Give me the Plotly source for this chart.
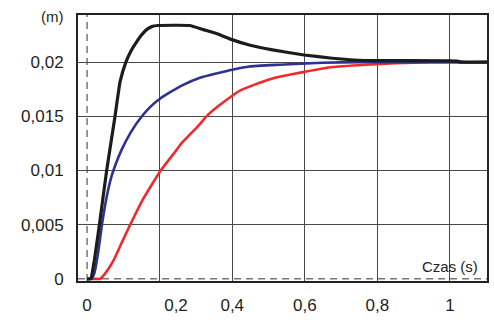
import plotly.graph_objects as go

# ---- data ----
t_black = [0, 0.010, 0.020, 0.034, 0.054, 0.064, 0.077, 0.091, 0.107, 0.122, 0.137,
           0.150, 0.164, 0.180, 0.195, 0.283, 0.320, 0.360, 0.397, 0.447, 0.511,
           0.598, 0.676, 0.767, 1.020, 1.030, 1.102]
y_black = [0, 0, 0.0017, 0.0050, 0.0100, 0.0122, 0.0150, 0.0182, 0.0200, 0.0211, 0.0219,
           0.0225, 0.0230, 0.0233, 0.02338, 0.02338, 0.0230, 0.0226, 0.0221, 0.02158, 0.02113,
           0.02066, 0.02036, 0.02015, 0.0201, 0.0200, 0.0200]

t_blue = [0, 0.012, 0.020, 0.030, 0.041, 0.053, 0.066, 0.078, 0.095, 0.120, 0.151,
          0.175, 0.200, 0.228, 0.265, 0.311, 0.356, 0.400, 0.447, 0.530, 0.648, 0.750, 1.102]
y_blue = [0, 0, 0.0005, 0.0023, 0.0050, 0.0074, 0.0093, 0.0105, 0.0119, 0.0135, 0.0150,
          0.0159, 0.0166, 0.0172, 0.0179, 0.01856, 0.01895, 0.0193, 0.0196, 0.01976, 0.01994, 0.0200, 0.0200]

t_red = [0, 0.023, 0.036, 0.050, 0.073, 0.095, 0.119, 0.155, 0.203, 0.2466, 0.260,
         0.306, 0.329, 0.360, 0.400, 0.420, 0.460, 0.511, 0.530, 0.598, 0.676, 0.767,
         0.850, 0.950, 1.102]
y_red = [0, 0, 0, 0.0005, 0.0017, 0.0033, 0.0050, 0.0074, 0.0100, 0.0119, 0.0125,
         0.0141, 0.0150, 0.0159, 0.0169, 0.01735, 0.0179, 0.0185, 0.01865, 0.0191, 0.01955, 0.01976,
         0.0199, 0.0200, 0.0200]

x_grid = [0.2, 0.4, 0.6, 0.8, 1.0]
y_grid = [0.005, 0.01, 0.015, 0.02]
x_tick_pos = [0, 0.245, 0.4, 0.6, 0.8, 1.0]
x_tick_text = ["0", "0,2", "0,4", "0,6", "0,8", "1"]
y_tick_pos = [0, 0.005, 0.01, 0.015, 0.02]
y_tick_text = ["0", "0,005", "0,01", "0,015", "0,02"]

X_RANGE = [-0.025, 1.102]
Y_RANGE = [-0.0002, 0.02435]

FONT = "Liberation Sans, Arial, sans-serif"
TXT = "#231f20"

fig = go.Figure()
fig.add_trace(go.Scatter(x=t_red, y=y_red, mode="lines",
                         line=dict(color="#ee2a2c", width=2.6, shape="spline", smoothing=0.4),
                         showlegend=False, hoverinfo="skip"))
fig.add_trace(go.Scatter(x=t_blue, y=y_blue, mode="lines",
                         line=dict(color="#2e3192", width=2.6, shape="spline", smoothing=0.4),
                         showlegend=False, hoverinfo="skip"))
fig.add_trace(go.Scatter(x=t_black, y=y_black, mode="lines",
                         line=dict(color="#1c1c1a", width=3.2, shape="spline", smoothing=0.4),
                         showlegend=False, hoverinfo="skip"))
# empty trace for label axes
fig.add_trace(go.Scatter(x=[None], y=[None], xaxis="x2", yaxis="y2",
                         showlegend=False, hoverinfo="skip"))

# dashed zero lines
fig.add_shape(type="line", xref="x", yref="paper", x0=0, x1=0, y0=0, y1=1,
              line=dict(color="#333", width=1, dash="7px,5px"), layer="below")
fig.add_shape(type="line", xref="paper", yref="y", x0=0, x1=1, y0=0, y1=0,
              line=dict(color="#333", width=1, dash="7px,5px"), layer="below")

fig.update_layout(
    width=494, height=320,
    margin=dict(l=78, r=5, t=15, b=32),
    paper_bgcolor="white", plot_bgcolor="white",
    font=dict(family=FONT, size=17, color=TXT),
    hovermode=False,
    xaxis=dict(range=X_RANGE, tickvals=x_grid, showticklabels=False,
               showgrid=True, gridcolor="#4a4a4a", gridwidth=1,
               zeroline=False, showline=True, linecolor="#222", linewidth=1.6,
               mirror=True, ticks=""),
    yaxis=dict(range=Y_RANGE, tickvals=y_grid, showticklabels=False,
               showgrid=True, gridcolor="#4a4a4a", gridwidth=1,
               zeroline=False, showline=True, linecolor="#222", linewidth=1.6,
               mirror=True, ticks=""),
    xaxis2=dict(range=X_RANGE, overlaying="x", side="bottom", tickvals=x_tick_pos,
                ticktext=x_tick_text, showgrid=False, zeroline=False, showline=False,
                ticks="outside", ticklen=9, tickcolor="rgba(0,0,0,0)",
                tickfont=dict(family=FONT, size=17, color=TXT)),
    yaxis2=dict(range=Y_RANGE, overlaying="y", side="left", tickvals=y_tick_pos,
                ticktext=y_tick_text, showgrid=False, zeroline=False, showline=False,
                ticks="outside", ticklen=10, tickcolor="rgba(0,0,0,0)",
                tickfont=dict(family=FONT, size=17, color=TXT)),
    annotations=[
        dict(text="(m)", xref="paper", yref="paper", x=-0.063, y=0.996,
             xanchor="center", yanchor="middle", showarrow=False,
             font=dict(family=FONT, size=15, color=TXT)),
        dict(text="Czas (s)", xref="paper", yref="paper", x=0.983, y=0.055,
             xanchor="right", yanchor="middle", showarrow=False,
             font=dict(family=FONT, size=15, color=TXT)),
    ],
)

# remove the browser's default 8px body margin so the figure fills the window
fig.write_html("out.html",
               config={"displayModeBar": False, "staticPlot": True},
               post_script="document.body.style.margin='0';document.body.style.overflow='hidden';")
